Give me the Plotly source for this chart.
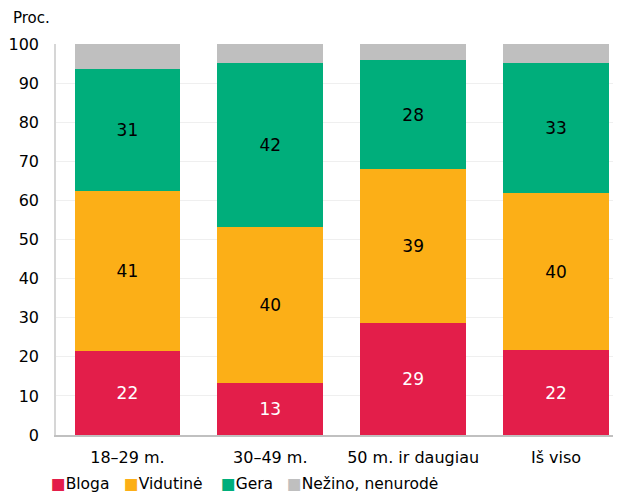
import plotly.graph_objects as go

categories = ["18\u201329 m.", "30\u201349 m.", "50 m. ir daugiau", "I\u0161 viso"]

bloga = [21.5, 13.3, 28.6, 21.7]
vidutine = [40.9, 39.9, 39.4, 40.2]
gera = [31.2, 41.9, 27.9, 33.2]
nezino = [6.4, 4.9, 4.1, 4.9]

series = [
    ("Bloga", bloga, "#E31E4A", "white"),
    ("Vidutin\u0117", vidutine, "#FCAF17", "black"),
    ("Gera", gera, "#00AE7B", "black"),
    ("Ne\u017eino, nenurod\u0117", nezino, "#BFBFBF", "black"),
]

FONT = "Verdana, DejaVu Sans, sans-serif"

# page body has an 8px margin, so the figure is drawn 8px smaller
W, H = 613, 489
ML, MR, MT, MB = 47.5, 0, 36, 62
PW = W - ML - MR
PH = H - MT - MB


def px_x(x):
    return (x - ML) / PW


def px_y(y):
    return (H - MB - y) / PH


fig = go.Figure()
for name, vals, color, txtcolor in series:
    show_text = name != "Ne\u017eino, nenurod\u0117"
    fig.add_trace(
        go.Bar(
            x=categories,
            y=vals,
            name=name,
            showlegend=False,
            marker={"color": color, "line": {"width": 0}},
            text=[f"{v:.0f}" for v in vals] if show_text else None,
            textposition="inside" if show_text else "none",
            insidetextanchor="middle",
            textangle=0,
            constraintext="none",
            insidetextfont={"family": FONT, "size": 17, "color": txtcolor},
        )
    )

# legend as text items with coloured squares
legend_x = [40, 114, 211, 277]
annotations = [
    {
        "text": "Proc.",
        "xref": "paper",
        "yref": "paper",
        "x": px_x(2),
        "y": px_y(10),
        "xanchor": "left",
        "yanchor": "middle",
        "showarrow": False,
        "font": {"family": FONT, "size": 15},
    }
]
for (name, _, color, _), lx in zip(series, legend_x):
    annotations.append(
        {
            "text": f"<span style='color:{color}'>\u25a0</span>{name}",
            "xref": "paper",
            "yref": "paper",
            "x": px_x(lx),
            "y": px_y(476),
            "xanchor": "left",
            "yanchor": "middle",
            "showarrow": False,
            "font": {"family": FONT, "size": 15.5},
        }
    )

fig.update_layout(
    barmode="stack",
    bargap=0.26,
    width=W,
    height=H,
    margin={"l": ML, "r": MR, "t": MT, "b": MB},
    plot_bgcolor="white",
    paper_bgcolor="white",
    font={"family": FONT, "size": 16, "color": "#000000"},
    showlegend=False,
    annotations=annotations,
)

fig.update_yaxes(
    range=[0, 100],
    dtick=10,
    showgrid=True,
    gridcolor="#EFEFEF",
    gridwidth=1,
    showline=True,
    linecolor="#D6D6D6",
    linewidth=1.5,
    ticks="",
    ticklabelstandoff=12,
    tickfont={"family": FONT, "size": 16},
    zeroline=False,
)
fig.update_xaxes(
    range=[-0.5, 3.455],
    showline=True,
    linecolor="#C0C0C0",
    linewidth=2,
    ticks="",
    ticklabelstandoff=7,
    tickfont={"family": FONT, "size": 16},
)

fig.write_html("out.html")
